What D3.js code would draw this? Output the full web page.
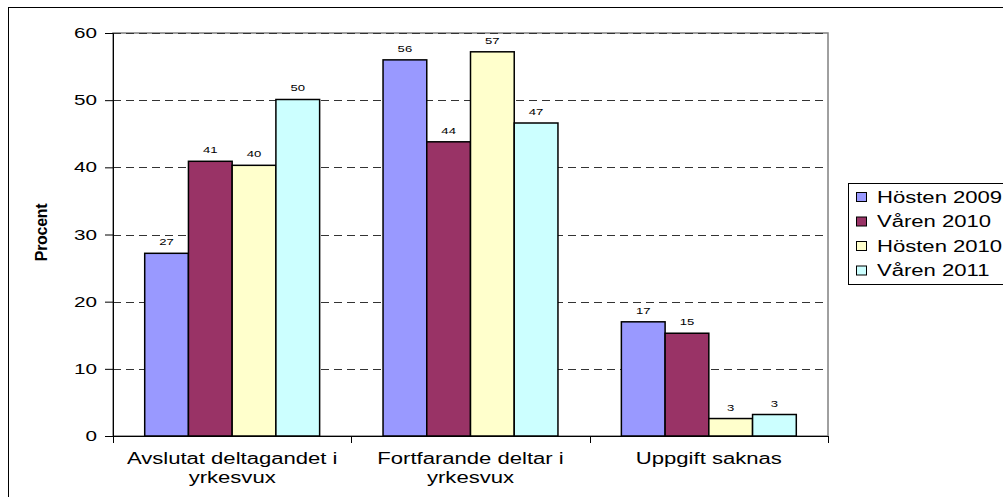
<!DOCTYPE html>
<html>
<head>
<meta charset="utf-8">
<script src="https://cdn.jsdelivr.net/npm/d3@7"></script>
<style>
  body { margin: 0; background: #fff; }
  svg { display: block; font-family: "Liberation Sans", Arial, sans-serif; }
</style>
</head>
<body>
<div class="chart-container"></div>
<script>
/********** the Data **********/
const categories = ["Avslutat deltagandet i\nyrkesvux", "Fortfarande deltar i\nyrkesvux", "Uppgift saknas"];
const series = ["Hösten 2009", "Våren 2010", "Hösten 2010", "Våren 2011"];
const hosten2009 = [27.2, 56.0, 17.0];
const varen2010 = [40.9, 43.8, 15.3];
const hosten2010 = [40.3, 57.2, 2.6];
const varen2011 = [50.1, 46.6, 3.2];
const yTicks = [0, 10, 20, 30, 40, 50, 60];
const colors = ["#9999ff", "#993366", "#ffffcc", "#ccffff"];

const seriesValues = [hosten2009, varen2010, hosten2010, varen2011];

/********** drawChart **********/
function drawChart() {
  let width = 1003, height = 497;
  let plot = {left: 113, right: 828, top: 33, bottom: 436};
  let sx = 1.38; // text in the picture is stretched sideways

  let svg = d3.select(".chart-container").append("svg")
    .attr("width", width)
    .attr("height", height);

  // outer chart border (right and bottom run off the picture)
  svg.append("rect")
    .attr("x", 8.5).attr("y", 7.5)
    .attr("width", 1100).attr("height", 600)
    .attr("fill", "none").attr("stroke", "#000");

  /***** scales *****/
  let xScale = d3.scaleBand()
    .domain(categories)
    .range([plot.left, plot.right])
    .padding(0);

  let xSub = d3.scaleBand()
    .domain(series)
    .range([0, xScale.bandwidth()])
    .paddingInner(0)
    .paddingOuter(0.725);

  let yScale = d3.scaleLinear()
    .domain([0, 60])
    .range([plot.bottom, plot.top]);

  // plot area frame
  svg.append("rect")
    .attr("x", plot.left).attr("y", plot.top)
    .attr("width", plot.right - plot.left)
    .attr("height", plot.bottom - plot.top)
    .attr("fill", "#fff").attr("stroke", "#808080").attr("stroke-width", 1.5);

  // dashed gridlines
  svg.append("g").attr("class", "grid")
    .selectAll("line")
    .data(yTicks.filter(d => d > 0))
    .enter().append("line")
      .attr("x1", plot.left).attr("x2", plot.right)
      .attr("y1", d => Math.round(yScale(d)) + 0.5)
      .attr("y2", d => Math.round(yScale(d)) + 0.5)
      .attr("stroke", "#333")
      .attr("stroke-dasharray", "8,5");

  /***** bars *****/
  let groups = svg.append("g").selectAll(".group")
    .data(categories)
    .enter().append("g")
      .attr("class", "group")
      .attr("transform", d => `translate(${xScale(d)},0)`);

  groups.selectAll(".bar")
    .data((c, ci) => series.map((s, si) => ({s: s, si: si, v: seriesValues[si][ci]})))
    .enter().append("rect")
      .attr("class", "bar")
      .attr("x", d => xSub(d.s))
      .attr("width", xSub.bandwidth())
      .attr("y", d => yScale(d.v))
      .attr("height", d => yScale(0) - yScale(d.v))
      .attr("fill", d => colors[d.si])
      .attr("stroke", "#000")
      .attr("stroke-width", 1.5);

  // value labels above bars
  groups.selectAll(".val")
    .data((c, ci) => series.map((s, si) => ({s: s, si: si, v: seriesValues[si][ci]})))
    .enter().append("text")
      .attr("class", "val")
      .attr("transform", d => `translate(${xSub(d.s) + xSub.bandwidth() / 2},${yScale(d.v) - 8}) scale(${sx},1)`)
      .attr("text-anchor", "middle")
      .attr("font-size", 9.5)
      .attr("fill", "#000")
      .text(d => d3.format(".0f")(d.v));

  /***** axes *****/
  let yAxis = d3.axisLeft(yScale).tickValues(yTicks).tickSize(8).tickFormat("");
  svg.append("g")
    .attr("class", "y-axis")
    .attr("transform", `translate(${plot.left},0)`)
    .call(yAxis)
    .call(g => g.select(".domain").attr("stroke", "#000"));

  svg.append("g").attr("class", "y-labels")
    .selectAll("text")
    .data(yTicks)
    .enter().append("text")
      .attr("transform", d => `translate(${plot.left - 16},${yScale(d) + 5}) scale(${sx},1)`)
      .attr("text-anchor", "end")
      .attr("font-size", 15)
      .text(d => d);

  let xAxis = d3.axisBottom(xScale).tickSize(0).tickFormat("");
  svg.append("g")
    .attr("class", "x-axis")
    .attr("transform", `translate(0,${plot.bottom})`)
    .call(xAxis)
    .call(g => g.select(".domain").attr("d", `M${plot.left - 8},0.5H${plot.right}`).attr("stroke", "#000"));

  // category boundary ticks
  let bounds = categories.map(c => xScale(c)).concat([plot.right]);
  svg.append("g").selectAll("line")
    .data(bounds)
    .enter().append("line")
      .attr("x1", d => Math.round(d) + 0.5).attr("x2", d => Math.round(d) + 0.5)
      .attr("y1", plot.bottom).attr("y2", plot.bottom + 7)
      .attr("stroke", "#000");

  // category labels
  svg.append("g").selectAll("text")
    .data(categories)
    .enter().append("text")
      .attr("transform", d => `translate(${xScale(d) + xScale.bandwidth() / 2},464) scale(${sx},1)`)
      .attr("text-anchor", "middle")
      .attr("font-size", 16)
      .each(function (d) {
        d3.select(this).selectAll("tspan")
          .data(d.split("\n"))
          .enter().append("tspan")
            .attr("x", 0)
            .attr("dy", (t, i) => i === 0 ? 0 : 19)
            .text(t => t);
      });

  // y-axis title
  svg.append("text")
    .attr("transform", `translate(47,${(plot.top + plot.bottom) / 2 - 2}) rotate(-90)`)
    .attr("text-anchor", "middle")
    .attr("font-size", 16)
    .attr("font-weight", "bold")
    .attr("letter-spacing", -0.3)
    .text("Procent");

  /***** legend *****/
  let legend = svg.append("g").attr("class", "legend");
  legend.append("rect")
    .attr("x", 848.5).attr("y", 183.5)
    .attr("width", 200).attr("height", 101)
    .attr("fill", "#fff").attr("stroke", "#000");

  let items = legend.selectAll(".item")
    .data(series)
    .enter().append("g")
      .attr("class", "item")
      .attr("transform", (d, i) => `translate(856,${197 + i * 24.5})`);

  items.append("rect")
    .attr("x", 0.5).attr("y", -4.5)
    .attr("width", 10).attr("height", 9)
    .attr("fill", (d, i) => colors[i])
    .attr("stroke", "#000");

  items.append("text")
    .attr("transform", `translate(21,5.5) scale(${sx},1)`)
    .attr("font-size", 16)
    .text(d => d);
}

drawChart();
</script>
</body>
</html>
